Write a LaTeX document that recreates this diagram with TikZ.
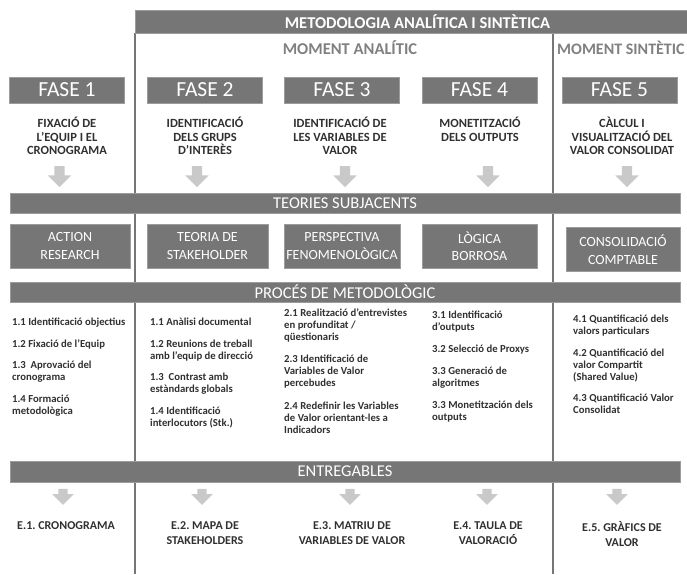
\documentclass[tikz,border=0pt]{standalone}
\usepackage{fontspec}
\setmainfont{Carlito}
\usetikzlibrary{shapes.arrows}

\definecolor{barfill}{HTML}{767676}
\definecolor{barline}{HTML}{9C9C9C}
\definecolor{arrowfill}{HTML}{C9C9C9}
\definecolor{sepline}{HTML}{767676}
\definecolor{txtdark}{HTML}{303030}
\definecolor{momenttxt}{HTML}{808080}

\tikzset{
  box/.style={fill=barfill, draw=barline, line width=0.6pt, text=white,
    inner sep=0pt, align=center},
  headbar/.style={box, font=\fontsize{16.5}{19}\selectfont\bfseries},
  bandbar/.style={box, minimum width=670pt, font=\fontsize{16.5}{19}\selectfont},
  fasebox/.style={box, minimum width=115pt, minimum height=26pt,
    font=\fontsize{21.5}{24}\selectfont},
  theorybox/.style={box, minimum height=44pt,
    font=\fontsize{14}{17.5}\selectfont},
  momentlabel/.style={text=momenttxt, inner sep=0pt,
    font=\fontsize{16.5}{19}\selectfont\bfseries},
  desctext/.style={text=txtdark, inner sep=0pt, align=center, anchor=north,
    font=\fontsize{12.5}{13.6}\selectfont\bfseries},
  delivtext/.style={desctext, font=\fontsize{12}{15}\selectfont\bfseries},
  proctext/.style={text=txtdark, inner sep=0pt, align=left, anchor=north west,
    font=\fontsize{10.7}{12.1}\selectfont\bfseries},
  downarrow/.style={single arrow, fill=arrowfill, draw=none, rotate=-90,
    inner sep=5pt, single arrow head extend=6.5pt,
    single arrow head indent=0pt, minimum height=21pt},
  smallarrow/.style={downarrow, inner sep=4.5pt,
    single arrow head extend=6pt, minimum height=16pt},
  separator/.style={draw=sepline, line width=1.8pt},
}

\begin{document}
\frenchspacing
\begin{tikzpicture}[x=1pt, y=-1pt]
\useasboundingbox (0,0) rectangle (687,574);

% column separators of the analytic / synthetic frame
\coordinate (sepAtop) at (135,33);
\coordinate (sepAbot) at (135,574);
\coordinate (sepStop) at (553,33);
\coordinate (sepSbot) at (553,574);
\draw[separator] (sepAtop) -- (sepAbot);
\draw[separator] (sepStop) -- (sepSbot);

% main header
\node[headbar, minimum width=565pt, minimum height=23pt] (head) at (417.5,21.5)
  {METODOLOGIA ANALÍTICA I SINTÈTICA};

\node[momentlabel] (analitic) at (350,48) {MOMENT ANALÍTIC};
\node[momentlabel, anchor=west, font=\fontsize{16}{19}\selectfont\bfseries]
  (sintetic) at (557,48) {MOMENT SINTÈTIC};

% phases
\node[fasebox] (f1) at (67,90)    {FASE 1};
\node[fasebox] (f2) at (205,90)   {FASE 2};
\node[fasebox] (f3) at (342,90)   {FASE 3};
\node[fasebox] (f4) at (479.5,90) {FASE 4};
\node[fasebox] (f5) at (619.5,90) {FASE 5};

\node[desctext] (d1) at (67,117)  {FIXACIÓ DE\\L’EQUIP I EL\\CRONOGRAMA};
\node[desctext] (d2) at (205,117) {IDENTIFICACIÓ\\DELS GRUPS\\D’INTERÈS};
\node[desctext] (d3) at (340,117) {IDENTIFICACIÓ DE\\LES VARIABLES DE\\VALOR};
\node[desctext] (d4) at (480,117) {MONETITZACIÓ\\DELS OUTPUTS};
\node[desctext] (d5) at (622,117) {CÀLCUL I\\VISUALITZACIÓ DEL\\VALOR CONSOLIDAT};

\node[downarrow] (a1) at (59.5,174) {};
\node[downarrow] (a2) at (197,174)  {};
\node[downarrow] (a3) at (345,174)  {};
\node[downarrow] (a4) at (488,174)  {};
\node[downarrow] (a5) at (627,174)  {};

% underlying theories
\node[bandbar, minimum height=20pt] (teories) at (345,203) {TEORIES SUBJACENTS};

\node[theorybox, minimum width=120pt] (t1) at (70,246)    {ACTION\\RESEARCH};
\node[theorybox, minimum width=121pt] (t2) at (207.5,246) {TEORIA DE\\STAKEHOLDER};
\node[theorybox, minimum width=116pt] (t3) at (342,246)   {PERSPECTIVA\\FENOMENOLÒGICA};
\node[theorybox, minimum width=115pt] (t4) at (479.5,246) {LÒGICA\\BORROSA};
\node[theorybox, minimum width=114pt] (t5) at (623,249.5) {CONSOLIDACIÓ\\COMPTABLE};

% methodological process
\node[bandbar, minimum height=20pt] (proces) at (345,292) {PROCÉS DE METODOLÒGIC};

\node[proctext] (p1) at (12,318) {1.1 Identificació objectius\\[9.3pt]
  1.2 Fixació de l’Equip\\[9.3pt]
  1.3~ Aprovació del\\cronograma\\[9.3pt]
  1.4 Formació\\metodològica};
\node[proctext] (p2) at (150,318) {1.1 Anàlisi documental\\[9.3pt]
  1.2 Reunions de treball\\amb l’equip de direcció\\[9.3pt]
  1.3~ Contrast amb\\estàndards globals\\[9.3pt]
  1.4 Identificació\\interlocutors (Stk.)};
\node[proctext] (p3) at (284,308.5) {2.1 Realització d’entrevistes\\en profunditat /\\qüestionaris\\[10pt]
  2.3 Identificació de\\Variables de Valor\\percebudes\\[10pt]
  2.4 Redefinir les Variables\\de Valor orientant-les a\\Indicadors};
\node[proctext] (p4) at (432,311) {3.1 Identificació\\d’outputs\\[9.8pt]
  3.2 Selecció de Proxys\\[9.3pt]
  3.3 Generació de\\algoritmes\\[9.8pt]
  3.3 Monetitzación dels\\outputs};
\node[proctext] (p5) at (573,315) {4.1 Quantificació dels\\valors particulars\\[9.3pt]
  4.2 Quantificació del\\valor Compartit\\(Shared Value)\\[9.3pt]
  4.3 Quantificació Valor\\Consolidat};

% deliverables
\node[bandbar, minimum height=21pt] (entregables) at (345,471.5) {ENTREGABLES};

\node[smallarrow] (b1) at (63,494.5)  {};
\node[smallarrow] (b2) at (202,494.5) {};
\node[smallarrow] (b3) at (350,494.5) {};
\node[smallarrow] (b4) at (487,494.5) {};
\node[smallarrow] (b5) at (617,494.5) {};

\node[delivtext] (e1) at (66,521)  {E.1. CRONOGRAMA};
\node[delivtext] (e2) at (205,521) {E.2. MAPA DE\\STAKEHOLDERS};
\node[delivtext] (e3) at (352,521) {E.3. MATRIU DE\\VARIABLES DE VALOR};
\node[delivtext] (e4) at (488,521) {E.4. TAULA DE\\VALORACIÓ};
\node[delivtext] (e5) at (622,521) {E.5. GRÀFICS DE\\VALOR};
\end{tikzpicture}
\end{document}
